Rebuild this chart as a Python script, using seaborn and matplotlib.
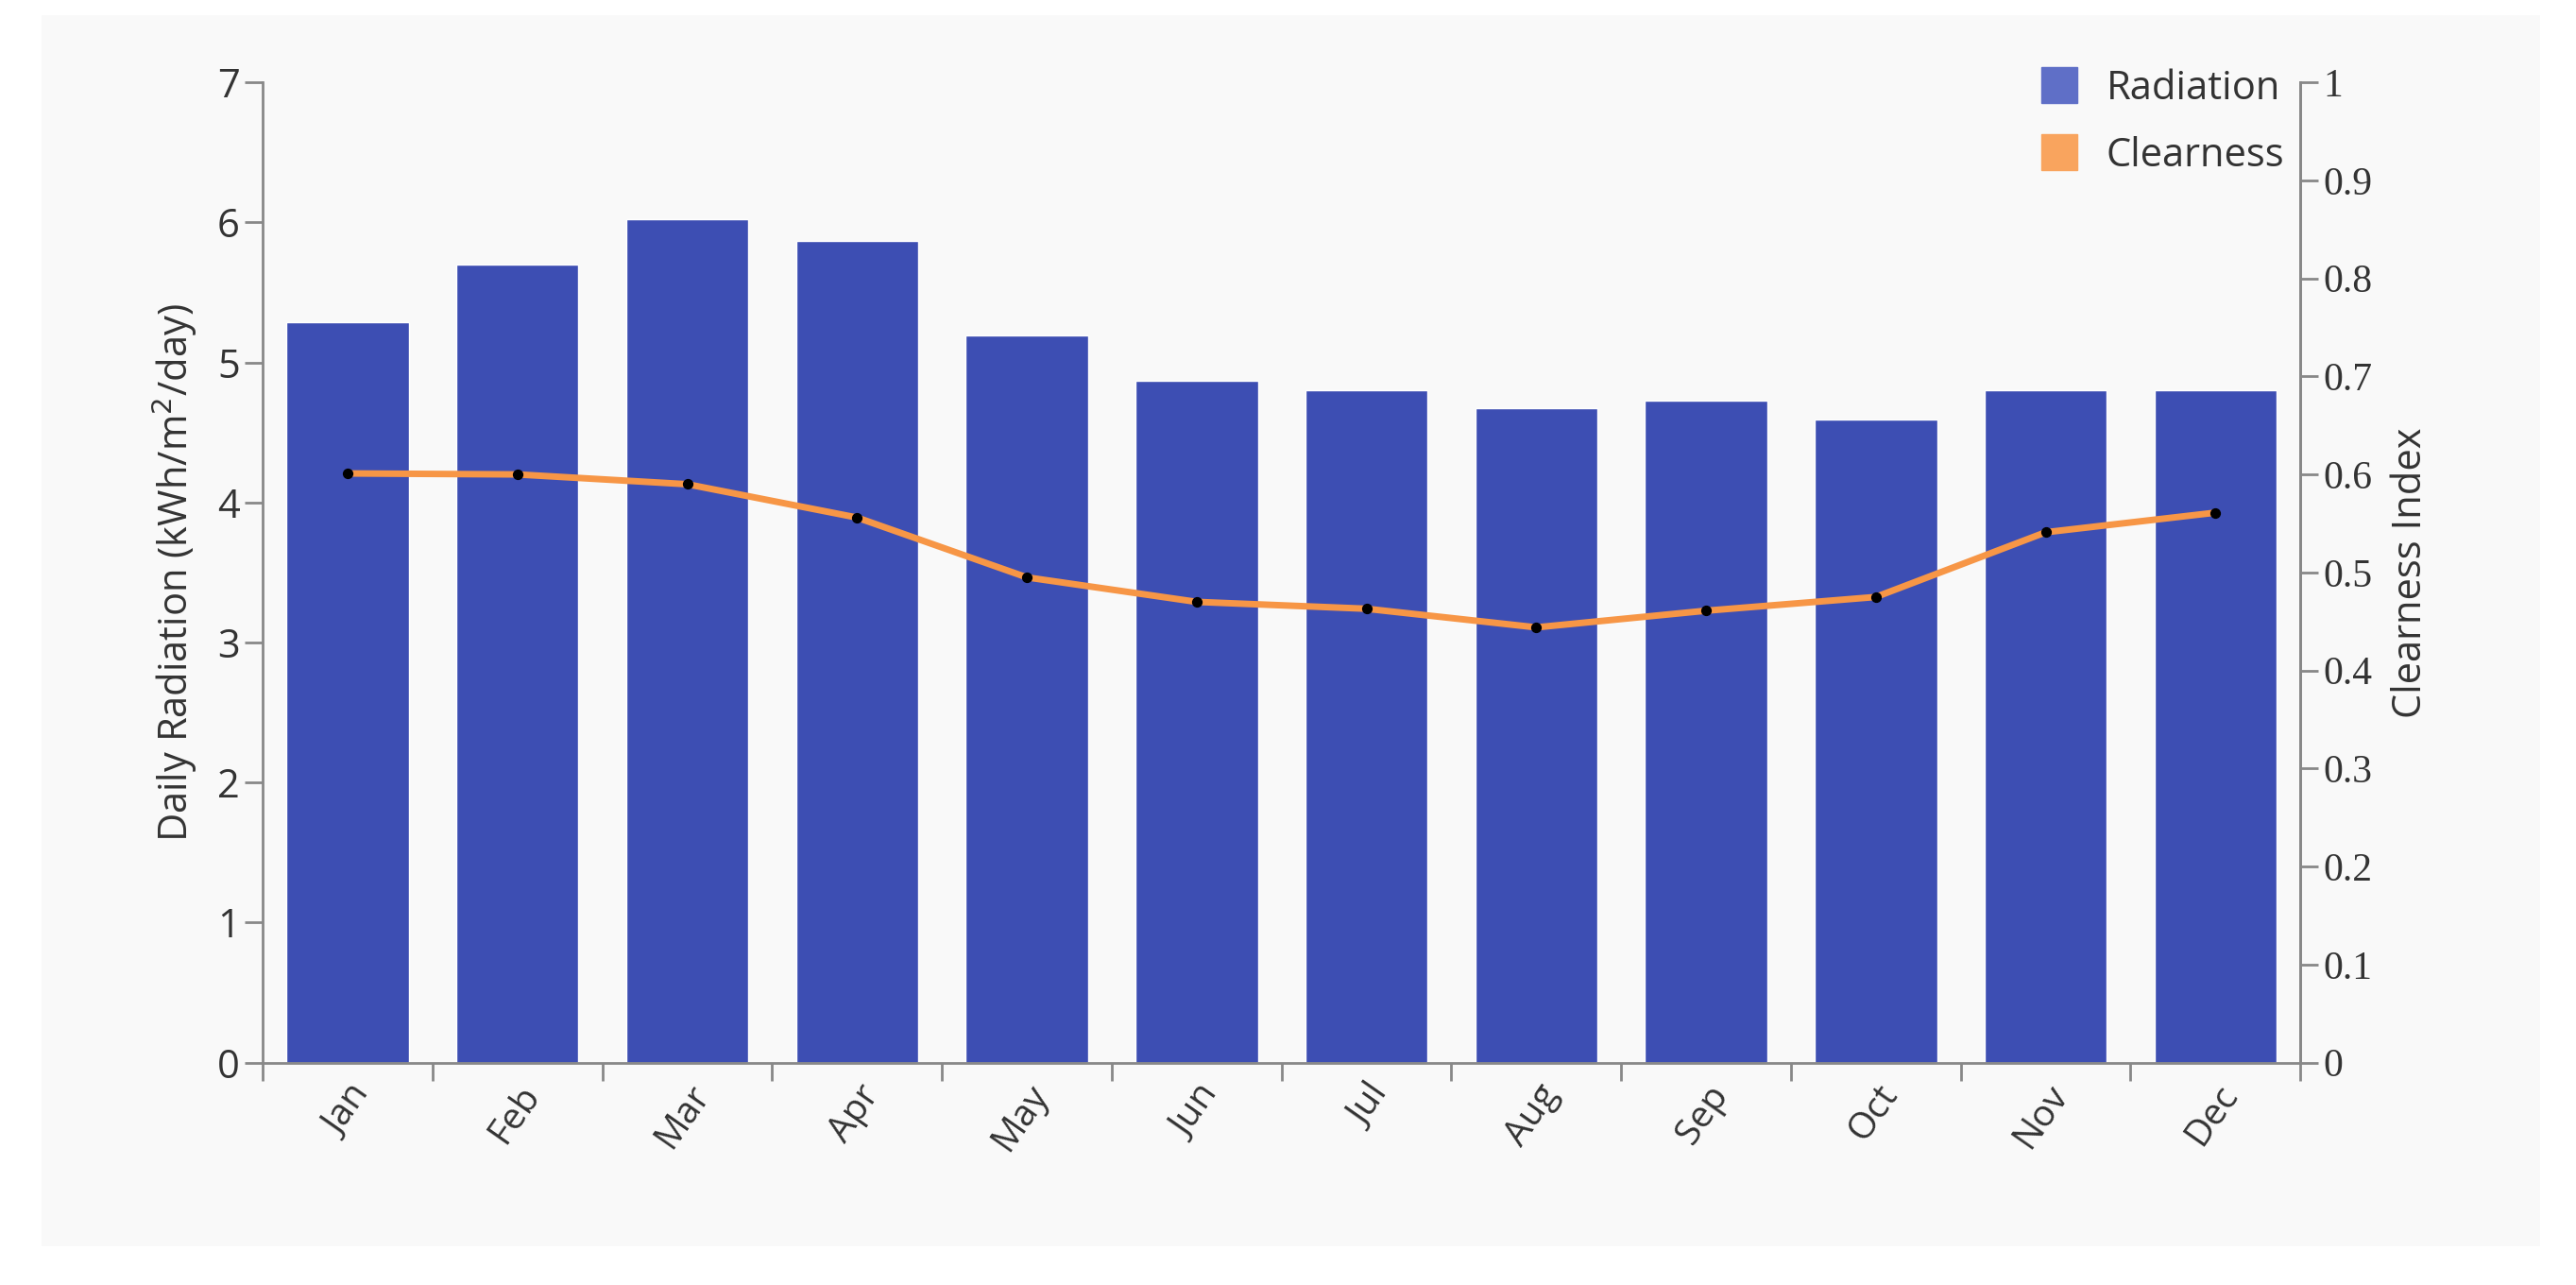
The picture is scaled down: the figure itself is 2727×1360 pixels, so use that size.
import matplotlib
matplotlib.use("Agg")
import matplotlib.pyplot as plt
import seaborn as sns
import pandas as pd
import numpy as np
from matplotlib.patches import Rectangle
from matplotlib.lines import Line2D

months = ["Jan","Feb","Mar","Apr","May","Jun","Jul","Aug","Sep","Oct","Nov","Dec"]
radiation = [5.29,5.70,6.02,5.87,5.19,4.87,4.80,4.67,4.73,4.59,4.80,4.80]
clearness = [0.601,0.600,0.590,0.556,0.495,0.470,0.463,0.444,0.461,0.475,0.541,0.561]

sns.set_style("white")
plt.rcParams['font.family'] = ['Open Sans', 'DejaVu Sans']
fig = plt.figure(figsize=(27.27,13.60), dpi=100)
bg = "#f9f9f9"
fig.patches.append(Rectangle((0.016,0.03),0.97,0.958,transform=fig.transFigure,facecolor=bg,edgecolor='none',zorder=-10))
ax = fig.add_axes([0.102,0.173,0.791,0.763])
ax.set_facecolor(bg)
df = pd.DataFrame({"m":months,"r":radiation})
sns.barplot(data=df,x="m",y="r",color="#3d4eb3",saturation=1,width=0.72,ax=ax)
ax.set_xlim(-0.5,11.5); ax.set_ylim(0,7)
gc="#888888"
for s in ["top"]: ax.spines[s].set_visible(False)
for s in ["left","bottom","right"]: ax.spines[s].set_color(gc); ax.spines[s].set_linewidth(2)
ax.set_yticks(range(8))
ax.tick_params(axis='y',labelsize=30,colors=gc,labelcolor="#333333",length=14,width=2,direction='out',left=True)
ax.set_xticks(np.arange(12))
ax.set_xticklabels(months,rotation=55,ha='right',rotation_mode='anchor',fontsize=28,color="#333333")
ax.tick_params(axis='x',length=0,pad=12)
ax.set_xticks(np.arange(-0.5,12,1),minor=True)
ax.tick_params(axis='x',which='minor',length=14,width=2,colors=gc,bottom=True)
ax.set_xlabel("")
ax.set_ylabel("Daily Radiation (kWh/m$^2$/day)",fontsize=30,color="#333333",labelpad=14)
ax2 = ax.twinx()
ax2.plot(range(12),clearness,color="#f79646",lw=5,zorder=3)
ax2.scatter(range(12),clearness,color="black",s=50,zorder=4)
ax2.set_ylim(0,1); ax2.set_yticks(np.arange(0,1.01,0.1))
ax2.set_yticklabels(["0"]+[f"{v:.1f}" for v in np.arange(0.1,0.95,0.1)]+["1"],fontfamily="Liberation Serif",fontsize=30,color="#333333")
ax2.tick_params(axis='y',length=14,width=2,colors=gc,labelcolor="#333333",right=True)
for s in ["top","left","bottom"]: ax2.spines[s].set_visible(False)
ax2.spines["right"].set_color(gc); ax2.spines["right"].set_linewidth(2)
ax2.set_ylabel("Clearness Index",fontsize=30,color="#333333",labelpad=14)
h=[Line2D([],[],marker='s',ls='',color="#5f6fc7",markersize=28),Line2D([],[],marker='s',ls='',color="#f9a45e",markersize=28)]
ax2.legend(h,["Radiation","Clearness"],loc='upper right',bbox_to_anchor=(1.0,1.03),frameon=False,fontsize=30,handletextpad=0.2,labelspacing=0.7,borderaxespad=0,labelcolor="#333333")
fig.savefig("out.png",dpi=100)
